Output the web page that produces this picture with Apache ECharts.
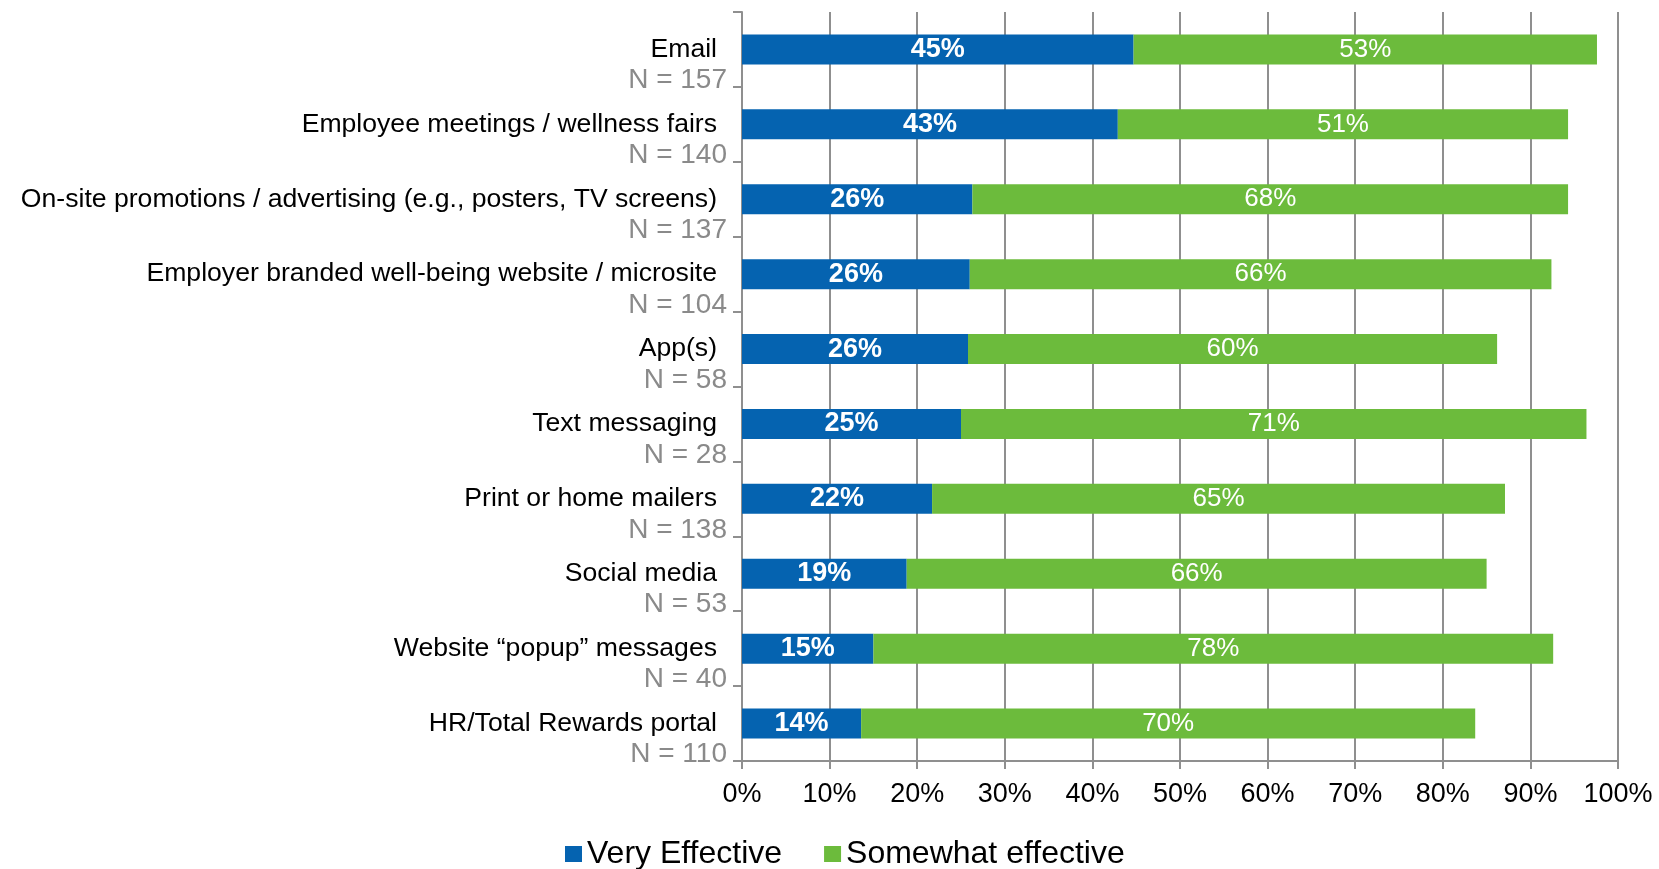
<!DOCTYPE html>
<html>
<head>
<meta charset="utf-8">
<script src="https://cdn.jsdelivr.net/npm/echarts@6/dist/echarts.min.js"></script>
<style>
  html, body { margin: 0; padding: 0; background: #fff; }
  #chart { width: 1659px; height: 869px; }
</style>
</head>
<body>
<div id="chart"></div>
<script>
// channels, top to bottom
const categories = [
  'Email',
  'Employee meetings / wellness fairs',
  'On-site promotions / advertising (e.g., posters, TV screens)',
  'Employer branded well-being website / microsite',
  'App(s)',
  'Text messaging',
  'Print or home mailers',
  'Social media',
  'Website \u201cpopup\u201d messages',
  'HR/Total Rewards portal'
];
const sampleSizes = [157, 140, 137, 104, 58, 28, 138, 53, 40, 110];
const veryEffective = [44.7, 42.9, 26.3, 26.0, 25.8, 25.0, 21.7, 18.8, 15.0, 13.6];
const somewhatEffective = [52.9, 51.4, 68.0, 66.4, 60.4, 71.4, 65.4, 66.2, 77.6, 70.1];
const xTicks = [0, 10, 20, 30, 40, 50, 60, 70, 80, 90, 100];

const FONT = "'Liberation Sans', Arial, sans-serif";
const GRAY = '#8f8f8f';

let chart = echarts.init(document.getElementById('chart'));

let option = {
  animation: false,
  textStyle: { fontFamily: FONT },
  grid: { left: 742, right: 41, top: 12, bottom: 108 },
  legend: {
    data: [
      { name: 'Very Effective', icon: 'rect' },
      { name: 'Somewhat effective', icon: 'rect' }
    ],
    left: 560,
    top: 831,
    itemWidth: 17,
    itemHeight: 16,
    itemGap: 42,
    textStyle: { fontSize: 32, color: '#000', fontFamily: FONT, lineHeight: 36 }
  },
  xAxis: {
    type: 'value',
    min: xTicks[0],
    max: xTicks[xTicks.length - 1],
    interval: xTicks[1] - xTicks[0],
    axisLine: { show: true, lineStyle: { color: GRAY, width: 2 } },
    axisTick: { show: true, length: 8, lineStyle: { color: GRAY, width: 2 } },
    splitLine: { show: true, lineStyle: { color: GRAY, width: 2 } },
    axisLabel: {
      formatter: '{value}%',
      fontSize: 27,
      color: '#000',
      margin: 20,
      fontFamily: FONT
    }
  },
  yAxis: {
    type: 'category',
    inverse: true,
    data: categories,
    axisLine: { show: true, lineStyle: { color: GRAY, width: 2 } },
    axisTick: { show: true, length: 9, lineStyle: { color: GRAY, width: 2 } },
    axisLabel: {
      interval: 0,
      showMinLabel: true,
      showMaxLabel: true,
      hideOverlap: false,
      margin: 15,
      align: 'right',
      formatter: function (value, idx) {
        return '{e| }\n{name|' + value + '}\n{n|N = ' + sampleSizes[idx] + '}';
      },
      rich: {
        e: { fontSize: 10, lineHeight: 31, align: 'right' },
        name: { fontSize: 26.6, lineHeight: 31, color: '#000', align: 'right', padding: [0, 10, 0, 0], fontFamily: FONT },
        n: { fontSize: 28, lineHeight: 31, color: '#8a8a8a', align: 'right', fontFamily: FONT }
      }
    }
  },
  series: [
    {
      name: 'Very Effective',
      type: 'bar',
      stack: 'total',
      barWidth: 30,
      data: veryEffective,
      itemStyle: { color: '#0563b0' },
      label: {
        show: true,
        position: 'inside',
        color: '#fff',
        fontWeight: 'bold',
        fontSize: 27,
        fontFamily: FONT,
        formatter: p => Math.round(p.value) + '%'
      }
    },
    {
      name: 'Somewhat effective',
      type: 'bar',
      stack: 'total',
      barWidth: 30,
      data: somewhatEffective,
      itemStyle: { color: '#6cbb3c' },
      label: {
        show: true,
        position: 'inside',
        color: '#fff',
        fontSize: 26,
        fontFamily: FONT,
        formatter: p => Math.round(p.value) + '%'
      }
    }
  ]
};

chart.setOption(option);
</script>
</body>
</html>
